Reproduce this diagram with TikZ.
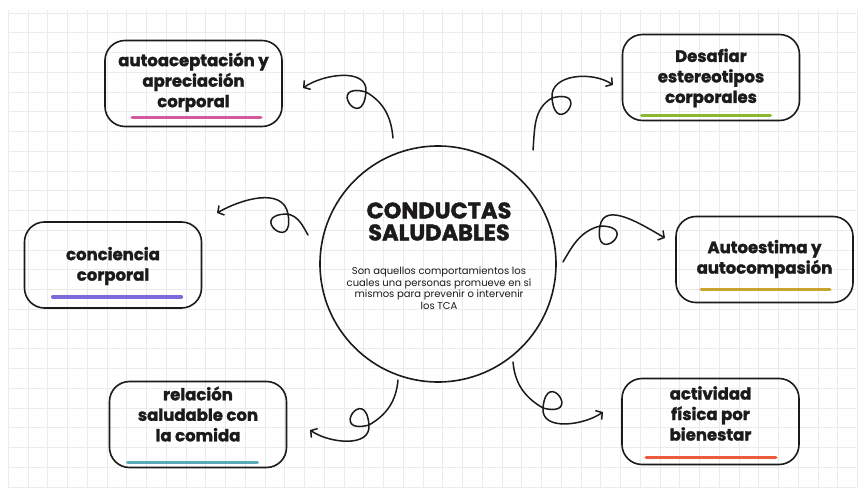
\documentclass[tikz,border=0pt]{standalone}
\usepackage{fontspec}
\setmainfont{Poppins}
\newfontfamily\heavyfont{Poppins}[BoldFeatures={FakeBold=1.6}]
\usetikzlibrary{arrows.meta,calc}

\definecolor{gridgray}{HTML}{EBEBEB}
\definecolor{inkpink}{HTML}{D6589F}
\definecolor{inkgreen}{HTML}{8CB832}
\definecolor{inkpurple}{HTML}{7C6CDB}
\definecolor{inkgold}{HTML}{C9A42C}
\definecolor{inkteal}{HTML}{5BAAB9}
\definecolor{inkred}{HTML}{EC5B3C}
\definecolor{inkblack}{HTML}{1C1A1A}

\tikzset{
  gridline/.style={gridgray, line width=0.7pt},
  topic/.style={draw=inkblack, rounded corners=20pt, line width=1.6pt,
    minimum width=177pt, minimum height=86pt},
  topictext/.style={align=center, text=inkblack, inner sep=0pt,
    font=\heavyfont\bfseries\fontsize{16.5}{20.5}\selectfont},
  curl/.style={inkblack, line width=1.5pt, line cap=round,
    -{Straight Barb[length=4.5pt,width=11pt]}},
  brush/.style={line width=3.5pt, line cap=round},
}

\begin{document}
\begin{tikzpicture}[x=1pt, y=1pt]
\useasboundingbox (0,0) rectangle (863,488);
\fill[white] (0,0) rectangle (863,488);

% grid paper
\foreach \k in {0,...,43}
  \draw[gridline] (8.3+19.75*\k, 0) -- (8.3+19.75*\k, 478);
\foreach \k in {0,...,24}
  \draw[gridline] (8, 475-19.75*\k) -- (856, 475-19.75*\k);

% centre
\node[draw=inkblack, circle, line width=1.6pt, minimum size=236pt] (hub) at (438,224) {};
\node[text=inkblack, align=center, font=\heavyfont\bfseries\fontsize{22.5}{22}\selectfont] (hubtitle) at (439,266.5) {CONDUCTAS\\SALUDABLES};
\node[text=inkblack, align=center, font=\fontsize{10}{11.5}\selectfont] (hubtext) at (439,200)
  {Son aquellos comportamientos los\\cuales una personas promueve en sí\\mismos para prevenir o intervenir\\los TCA};

% topics
\node[topic] (acept) at (193.5,404.5) {};
\node[topictext] (aceptT) at (193.5,406) {autoaceptación y\\apreciación\\corporal};
\node[topic] (desaf) at (711,410.5) {};
\node[topictext] (desafT) at (711,410) {Desafiar\\estereotipos\\corporales};
\node[topic] (conc) at (113,223) {};
\node[topictext] (concT) at (113,222) {conciencia\\corporal};
\node[topic] (autoe) at (764.5,228.5) {};
\node[topictext] (autoeT) at (764.5,229) {Autoestima y\\autocompasión};
\node[topic] (relac) at (198,63.5) {};
\node[topictext] (relacT) at (198,74) {relación\\saludable con\\la comida};
\node[topic] (activ) at (710.5,66.5) {};
\node[topictext] (activT) at (710.5,74.5) {actividad\\física por\\bienestar};

% underlines
\draw[brush, inkpink] ($(acept.south west)+(28,10)$) -- ($(acept.south east)+(-22,10)$);
\draw[brush, inkgreen] ($(desaf.south west)+(20,6)$) -- ($(desaf.south east)+(-30,6)$);
\draw[brush, inkpurple] ($(conc.south west)+(29,12)$) -- ($(conc.south east)+(-21,12)$);
\draw[brush, inkgold] ($(autoe.south west)+(26,14)$) -- ($(autoe.south east)+(-24,14)$);
\draw[brush, inkteal] ($(relac.south west)+(19,6)$) -- ($(relac.south east)+(-30,6)$);
\draw[brush, inkred] ($(activ.south west)+(25,8)$) -- ($(activ.south east)+(-24,8)$);

% curly arrows
\coordinate (acS) at (393,350); \coordinate (acL) at (366,396); \coordinate (acE) at (303,400);
\draw[curl] (acS) to[out=95,in=-30] (acL) .. controls ($(acL)+(165:42)$) and ($(acL)+(265:42)$) .. (acL) to[out=85,in=35] (acE);
\coordinate (dsS) at (533,338); \coordinate (dsL) at (552,390); \coordinate (dsE) at (613,403);
\draw[curl] (dsS) to[out=85,in=210] (dsL) .. controls ($(dsL)+(15:42)$) and ($(dsL)+(-85:42)$) .. (dsL) to[out=95,in=145] (dsE);
\coordinate (ccS) at (308,253); \coordinate (ccL) at (288,274); \coordinate (ccE) at (217,275);
\draw[curl] (ccS) to[out=120,in=-15] (ccL) .. controls ($(ccL)+(180:42)$) and ($(ccL)+(280:42)$) .. (ccL) to[out=100,in=30] (ccE);
\coordinate (aeS) at (563,226); \coordinate (aeL) at (600,262); \coordinate (aeE) at (665,250);
\draw[curl] (aeS) to[out=60,in=195] (aeL) .. controls ($(aeL)+(0:42)$) and ($(aeL)+(-100:42)$) .. (aeL) to[out=80,in=150] (aeE);
\coordinate (rcS) at (398,108); \coordinate (rcL) at (369,63); \coordinate (rcE) at (310,58);
\draw[curl] (rcS) to[out=-95,in=30] (rcL) .. controls ($(rcL)+(-165:42)$) and ($(rcL)+(95:42)$) .. (rcL) to[out=-85,in=-35] (rcE);
\coordinate (afS) at (513,126); \coordinate (afL) at (543,80); \coordinate (afE) at (603,76);
\draw[curl] (afS) to[out=-85,in=150] (afL) .. controls ($(afL)+(-15:42)$) and ($(afL)+(85:42)$) .. (afL) to[out=-95,in=215] (afE);
\end{tikzpicture}
\end{document}
